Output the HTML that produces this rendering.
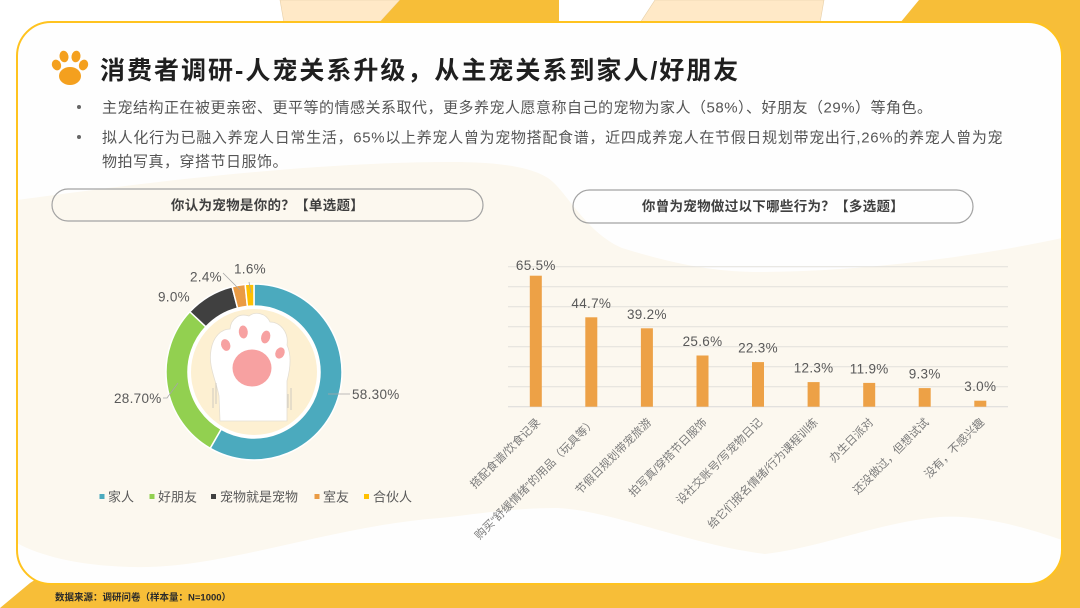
<!DOCTYPE html>
<html><head><meta charset="utf-8"><style>
html,body{margin:0;padding:0;background:#fff;}
svg{display:block;}
text{font-family:"Liberation Sans","Noto Sans CJK SC",sans-serif;}
</style></head><body>
<svg width="1080" height="608" viewBox="0 0 1080 608" xmlns="http://www.w3.org/2000/svg">
<defs>
<clipPath id="card"><rect x="17" y="22" width="1045" height="562" rx="34"/></clipPath>
<clipPath id="inner"><circle cx="254" cy="372" r="63"/></clipPath>
</defs>
<rect width="1080" height="608" fill="#ffffff"/>
<!-- top decorative shapes -->
<polygon points="280,0 400,0 379,23 284,23" fill="#FFE9C7" stroke="#E6CFA8" stroke-width="0.6"/>
<polygon points="400,0 559,0 559,23 379,23" fill="#F7BE38"/>
<polygon points="655,0 824,0 820,23 640,23" fill="#FFE9C7" stroke="#E6CFA8" stroke-width="0.6"/>
<polygon points="919,0 1080,0 1080,608 0,608 30,583 900,23" fill="#F7BE38"/>
<!-- card -->
<rect x="17" y="22" width="1045" height="562" rx="34" fill="#FEFEFE"/>
<g clip-path="url(#card)">
<path d="M17,200 C120,186 300,162 450,162 C505,162 532,168 548,178 C566,190 585,232 622,248 C680,266 720,272 760,272 C860,272 980,256 1062,238 L1062,540 C1010,522 972,515 940,517 C880,522 820,548 765,554 C690,545 610,510 557,508 C510,508 470,515 440,518 C330,526 220,570 133,567 C80,566 40,556 17,543 Z" fill="#FCF8EF"/>
</g>
<rect x="17" y="22" width="1045" height="562" rx="34" fill="none" stroke="#FFC31F" stroke-width="2"/>

<!-- title paw -->
<g fill="#F4A01E">
<ellipse cx="70" cy="76" rx="11" ry="9"/>
<ellipse cx="56.5" cy="65" rx="4.5" ry="5.5" transform="rotate(-25 56.5 65)"/>
<ellipse cx="64" cy="56.5" rx="4.5" ry="5.8" transform="rotate(-10 64 56.5)"/>
<ellipse cx="76" cy="56.5" rx="4.5" ry="5.8" transform="rotate(10 76 56.5)"/>
<ellipse cx="83.5" cy="65" rx="4.5" ry="5.5" transform="rotate(25 83.5 65)"/>
</g>
<text x="100" y="79" font-size="25" font-weight="700" fill="#1F1F1F" letter-spacing="2">消费者调研-人宠关系升级，从主宠关系到家人/好朋友</text>

<!-- bullets -->
<g font-size="15" fill="#555555" letter-spacing="0.5">
<circle cx="79" cy="107" r="2" fill="#666"/>
<circle cx="79" cy="137" r="2" fill="#666"/>
<text x="102" y="112.5">主宠结构正在被更亲密、更平等的情感关系取代，更多养宠人愿意称自己的宠物为家人（58%）、好朋友（29%）等角色。</text>
<text x="102" y="142.5" letter-spacing="0.7">拟人化行为已融入养宠人日常生活，65%以上养宠人曾为宠物搭配食谱，近四成养宠人在节假日规划带宠出行,26%的养宠人曾为宠</text>
<text x="102" y="166.5">物拍写真，穿搭节日服饰。</text>
</g>

<!-- pills -->
<rect x="52" y="189" width="431" height="32" rx="16" fill="none" stroke="#A3A3A3" stroke-width="1.2"/>
<text x="267.5" y="210" font-size="13.5" font-weight="700" fill="#3F3F3F" text-anchor="middle" letter-spacing="0.3">你认为宠物是你的？【单选题】</text>
<rect x="573" y="190" width="400" height="33" rx="16.5" fill="none" stroke="#A3A3A3" stroke-width="1.2"/>
<text x="773" y="211" font-size="13.5" font-weight="700" fill="#3F3F3F" text-anchor="middle" letter-spacing="0.3">你曾为宠物做过以下哪些行为？【多选题】</text>

<!-- donut -->
<g stroke="#ffffff" stroke-width="1.5">
<path d="M254,284 A88,88 0 1 1 210.16,448.30 L221.12,429.23 A66,66 0 1 0 254,306 Z" fill="#4BAABE"/>
<path d="M210.16,448.30 A88,88 0 0 1 189.85,311.76 L205.89,326.82 A66,66 0 0 0 221.12,429.23 Z" fill="#92D050"/>
<path d="M189.85,311.76 A88,88 0 0 1 232.11,286.76 L237.59,308.07 A66,66 0 0 0 205.89,326.82 Z" fill="#404040"/>
<path d="M232.11,286.76 A88,88 0 0 1 245.17,284.44 L247.38,306.33 A66,66 0 0 0 237.59,308.07 Z" fill="#EA9B44"/>
<path d="M245.17,284.44 A88,88 0 0 1 254,284 L254,306 A66,66 0 0 0 247.38,306.33 Z" fill="#FFC000"/>
</g>
<circle cx="254" cy="372" r="66" fill="#ffffff"/>
<circle cx="254" cy="372" r="63" fill="#FDF0D2"/>
<g clip-path="url(#inner)">
<path d="M220,421 L219,396 C216,380 208,366 211,350 C213,337 221,329 230,329 C231,318 240,313 249,316 C255,311 266,313 270,322 C280,322 289,332 287,345 C292,356 290,370 287,381 L287,421 Z" fill="#FFFFFF" stroke="#E4DED2" stroke-width="0.8"/>
<ellipse cx="252" cy="368" rx="19.5" ry="18.5" fill="#F7A1A1"/>
<ellipse cx="225.7" cy="345" rx="4.5" ry="6" fill="#F7A1A1" transform="rotate(-20 225.7 345)"/>
<ellipse cx="243.3" cy="332" rx="4.5" ry="6.5" fill="#F7A1A1" transform="rotate(-5 243.3 332)"/>
<ellipse cx="265.7" cy="337" rx="4.5" ry="6.5" fill="#F7A1A1" transform="rotate(15 265.7 337)"/>
<ellipse cx="280" cy="353" rx="4.5" ry="5.8" fill="#F7A1A1" transform="rotate(25 280 353)"/>
<g stroke="#CFCAC0" stroke-width="1" fill="none">
<path d="M213,388 L213,408 M216,383 L216,404"/>
<path d="M291,388 L291,410 M288,394 L288,408"/>
</g>
</g>
<!-- donut labels -->
<g stroke="#A6A6A6" stroke-width="0.8" fill="none">
<path d="M328,394 L350,394"/>
<path d="M178,383 L167,398 L163,398"/>
<path d="M223,273 L240,290"/>
<path d="M249,282 L251,293"/>
</g>
<g font-size="13.5" fill="#595959" letter-spacing="0.3">
<text x="352" y="399">58.30%</text>
<text x="114" y="403">28.70%</text>
<text x="158" y="301.5">9.0%</text>
<text x="190" y="281.5">2.4%</text>
<text x="234" y="273.5">1.6%</text>
</g>
<!-- legend -->
<g font-size="13" fill="#595959">
<rect x="99.5" y="494" width="5" height="5" fill="#4BAABE"/><text x="108" y="501.5">家人</text>
<rect x="149.5" y="494" width="5" height="5" fill="#92D050"/><text x="158" y="501.5">好朋友</text>
<rect x="211" y="494" width="5" height="5" fill="#404040"/><text x="220" y="501.5">宠物就是宠物</text>
<rect x="314.5" y="494" width="5" height="5" fill="#EA9B44"/><text x="323" y="501.5">室友</text>
<rect x="364" y="494" width="5" height="5" fill="#FFC000"/><text x="373" y="501.5">合伙人</text>
</g>

<!-- bar chart grid -->
<g stroke="#E2E0DC" stroke-width="1">
<line x1="508" y1="266.7" x2="1008" y2="266.7"/>
<line x1="508" y1="286.7" x2="1008" y2="286.7"/>
<line x1="508" y1="306.7" x2="1008" y2="306.7"/>
<line x1="508" y1="326.7" x2="1008" y2="326.7"/>
<line x1="508" y1="346.7" x2="1008" y2="346.7"/>
<line x1="508" y1="366.7" x2="1008" y2="366.7"/>
<line x1="508" y1="386.7" x2="1008" y2="386.7"/>
<line x1="508" y1="406.7" x2="1008" y2="406.7" stroke="#D9D9D9"/>
</g>
<g fill="#EDA146">
<rect x="529.8" y="275.7" width="12" height="131"/>
<rect x="585.3" y="317.3" width="12" height="89.4"/>
<rect x="640.9" y="328.3" width="12" height="78.4"/>
<rect x="696.5" y="355.5" width="12" height="51.2"/>
<rect x="752.0" y="362.1" width="12" height="44.6"/>
<rect x="807.6" y="382.1" width="12" height="24.6"/>
<rect x="863.2" y="382.9" width="12" height="23.8"/>
<rect x="918.7" y="388.1" width="12" height="18.6"/>
<rect x="974.3" y="400.7" width="12" height="6"/>
</g>
<g font-size="13.5" fill="#595959" text-anchor="middle" letter-spacing="0.3">
<text x="535.8" y="270">65.5%</text>
<text x="591.3" y="308">44.7%</text>
<text x="646.9" y="319">39.2%</text>
<text x="702.5" y="346">25.6%</text>
<text x="758.0" y="352.6">22.3%</text>
<text x="813.6" y="372.6">12.3%</text>
<text x="869.2" y="373.4">11.9%</text>
<text x="924.7" y="378.6">9.3%</text>
<text x="980.3" y="391.2">3.0%</text>
</g>
<g font-size="11.3" fill="#7A7A7A" text-anchor="end">
<text transform="translate(541,423) rotate(-45)">搭配食谱/饮食记录</text>
<text transform="translate(596.5,423) rotate(-45)">购买“舒缓情绪”的用品（玩具等）</text>
<text transform="translate(652,423) rotate(-45)">节假日规划带宠旅游</text>
<text transform="translate(707.5,423) rotate(-45)">拍写真/穿搭节日服饰</text>
<text transform="translate(763,423) rotate(-45)">设社交账号/写宠物日记</text>
<text transform="translate(818.5,423) rotate(-45)">给它们报名情绪/行为课程训练</text>
<text transform="translate(874,423) rotate(-45)">办生日派对</text>
<text transform="translate(929.5,423) rotate(-45)">还没做过，但想试试</text>
<text transform="translate(985,423) rotate(-45)">没有，不感兴趣</text>
</g>

<!-- footer -->
<text x="55" y="600.5" font-size="9.5" font-weight="700" fill="#2A2A2A">数据来源：调研问卷（样本量：N=1000）</text>
</svg>
</body></html>
